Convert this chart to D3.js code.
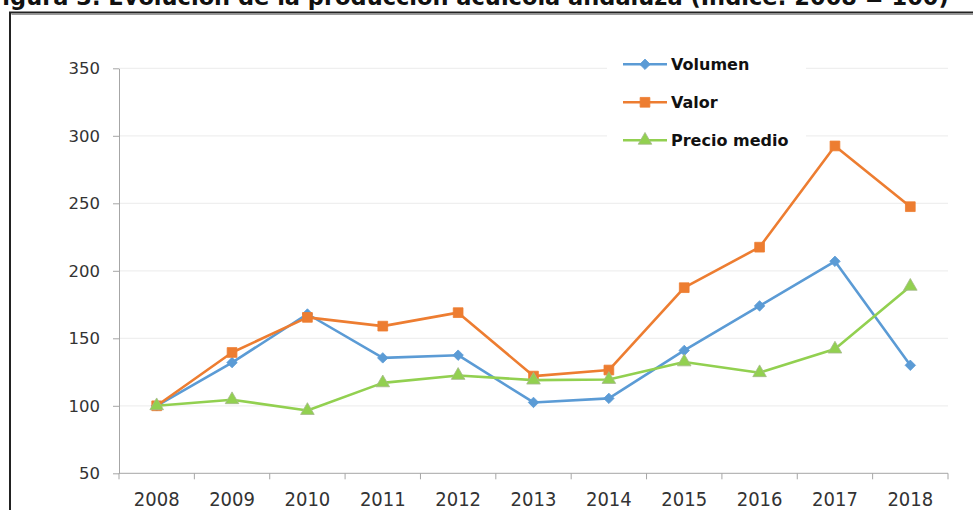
<!DOCTYPE html>
<html>
<head>
<meta charset="utf-8">
<script src="https://cdn.jsdelivr.net/npm/d3@7"></script>
<style>
  body { margin: 0; background: #fff; }
  svg { display: block; }
</style>
</head>
<body>
<div id="chart"></div>
<script>
// data (index 2008 = 100)
const years = ["2008", "2009", "2010", "2011", "2012", "2013", "2014", "2015", "2016", "2017", "2018"];
const volumen = [100, 132, 168, 135.5, 137.5, 102.5, 105.5, 141, 174, 207, 130];
const valor = [100, 139.5, 165.5, 159, 169, 122, 126.5, 187.5, 217.5, 292.5, 247.5];
const precioMedio = [100, 104.5, 96.5, 117, 122.5, 119, 119.5, 132.5, 124.5, 142, 188.5];
const yTicks = [50, 100, 150, 200, 250, 300, 350];
const seriesNames = ["Volumen", "Valor", "Precio medio"];

const title = "Figura 3. Evolución de la producción acuícola andaluza (Índice: 2008 = 100)";

const width = 973, height = 510;
const plot = {left: 119, right: 948, top: 68.3, bottom: 473.3};

const series = [
    {name: seriesNames[0], values: volumen, color: "#5B9BD5", symbol: d3.symbolDiamond2, size: 70},
    {name: seriesNames[1], values: valor, color: "#ED7D31", symbol: d3.symbolSquare, size: 95},
    {name: seriesNames[2], values: precioMedio, color: "#92D050", symbol: d3.symbolTriangle, size: 80}
];

const svg = d3.select("#chart").append("svg")
    .attr("width", width)
    .attr("height", height)
    .attr("viewBox", [0, 0, width, height]);

// title, cut off at the top of the picture like in the source
svg.append("text")
    .attr("x", -13)
    .attr("y", 5)
    .style("font", "bold 22.5px 'DejaVu Sans', sans-serif")
    .attr("fill", "#111")
    .text(title);

// chart frame
svg.append("rect")
    .attr("x", 10)
    .attr("y", 12.5)
    .attr("width", width + 20)
    .attr("height", height)
    .attr("fill", "#fff")
    .attr("stroke", "#222")
    .attr("stroke-width", 2);
svg.append("line")
    .attr("x1", 11.5).attr("x2", width)
    .attr("y1", 14.5).attr("y2", 14.5)
    .attr("stroke", "#999").attr("stroke-width", 1);

const x = d3.scaleBand().domain(years).range([plot.left, plot.right]);
const y = d3.scaleLinear().domain([50, 350]).range([plot.bottom, plot.top]);
const cx = d => x(d) + x.bandwidth() / 2;

// gridlines
svg.append("g")
    .selectAll("line")
    .data(yTicks.slice(1))
    .join("line")
    .attr("x1", plot.left).attr("x2", plot.right)
    .attr("y1", d => y(d)).attr("y2", d => y(d))
    .attr("stroke", "#efefef")
    .attr("stroke-width", 1.2);

// y axis
const yAxis = svg.append("g")
    .attr("transform", `translate(${plot.left},0)`)
    .call(d3.axisLeft(y).tickValues(yTicks).tickSize(6).tickPadding(13).tickSizeOuter(0));
yAxis.select(".domain").attr("stroke", "#a6a6a6");
yAxis.selectAll(".tick line").attr("stroke", "#a6a6a6");
yAxis.selectAll("text")
    .style("font", "16.5px 'DejaVu Sans', sans-serif")
    .attr("fill", "#333");

// x axis: labels centred in the bands, ticks on the band edges
const xAxis = svg.append("g")
    .attr("transform", `translate(0,${plot.bottom})`)
    .call(d3.axisBottom(x).tickSize(0).tickPadding(19).tickSizeOuter(0));
xAxis.select(".domain").remove();
xAxis.selectAll("text")
    .style("font", "20px 'Liberation Sans Narrow', 'DejaVu Sans Condensed', sans-serif")
    .attr("fill", "#333");
xAxis.append("line")
    .attr("x1", plot.left).attr("x2", plot.right)
    .attr("stroke", "#a6a6a6");
xAxis.append("g")
    .selectAll("line")
    .data(years.map(d => x(d)).concat([plot.right]))
    .join("line")
    .attr("x1", d => d).attr("x2", d => d)
    .attr("y1", 0).attr("y2", 6)
    .attr("stroke", "#a6a6a6");

// series lines and markers
const line = d3.line()
    .x((d, i) => cx(years[i]))
    .y(d => y(d));

series.forEach(s => {
    const g = svg.append("g");
    g.append("path")
        .attr("d", line(s.values))
        .attr("fill", "none")
        .attr("stroke", s.color)
        .attr("stroke-width", 2.6)
        .attr("stroke-linejoin", "round");
    g.selectAll("path.mark")
        .data(s.values)
        .join("path")
        .attr("class", "mark")
        .attr("transform", (d, i) => `translate(${cx(years[i])},${y(d)})`)
        .attr("d", d3.symbol(s.symbol, s.size))
        .attr("fill", s.color)
        .attr("stroke", s.symbol === d3.symbolTriangle ? "#a5b98a" : s.color)
        .attr("stroke-width", 0.8);
});

// legend
const legend = svg.append("g");
legend.append("rect")
    .attr("x", 607).attr("y", 50)
    .attr("width", 199).attr("height", 104)
    .attr("fill", "#fff");

const legendItem = legend.selectAll("g")
    .data(series)
    .join("g")
    .attr("transform", (d, i) => `translate(623,${64.3 + i * 38})`);
legendItem.append("line")
    .attr("x1", 0).attr("x2", 44)
    .attr("stroke", d => d.color)
    .attr("stroke-width", 2.6);
legendItem.append("path")
    .attr("transform", "translate(22,0)")
    .attr("d", d => d3.symbol(d.symbol, d.size)())
    .attr("fill", d => d.color)
    .attr("stroke", d => d.symbol === d3.symbolTriangle ? "#a5b98a" : d.color)
    .attr("stroke-width", 0.8);
legendItem.append("text")
    .attr("x", 48)
    .attr("dy", "0.35em")
    .style("font", "bold 16px 'DejaVu Sans', sans-serif")
    .attr("fill", "#111")
    .text(d => d.name);
</script>
</body>
</html>
